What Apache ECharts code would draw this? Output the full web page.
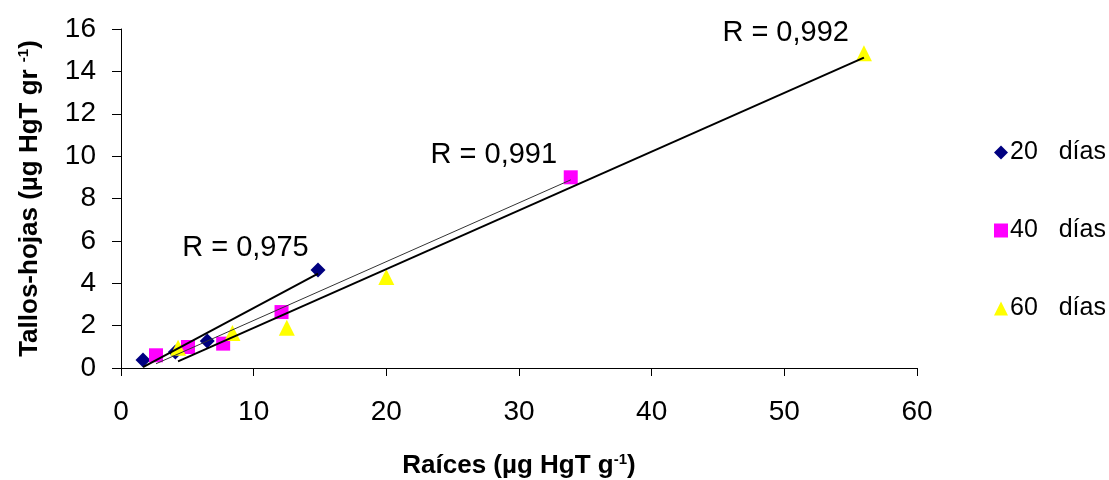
<!DOCTYPE html>
<html><head><meta charset="utf-8">
<script src="https://cdn.jsdelivr.net/npm/echarts@6/dist/echarts.min.js"></script>
<style>html,body{margin:0;padding:0;background:#fff}#c{width:1109px;height:480px}</style>
</head><body><div id="c"></div>
<script>
const seriesNames = ['20   días', '40   días', '60   días'];
const d20x = [1.66, 4.1, 6.5, 14.85];
const d20y = [0.38, 0.76, 1.27, 4.62];
const d40x = [2.64, 5.05, 7.7, 12.1, 33.9];
const d40y = [0.6, 0.99, 1.15, 2.64, 9.0];
const d60x = [4.3, 8.4, 12.5, 20.0, 56.0];
const d60y = [0.95, 1.65, 1.9, 4.3, 14.85];
const rLabels = ['R = 0,975', 'R = 0,991', 'R = 0,992'];
const rLabelPos = [[9.38, 5.66], [28.1, 10.03], [50.1, 15.83]];
const colors = ['#000080', '#FF00FF', '#FFFF00'];
const symbols = ['diamond', 'rect', 'triangle'];
const symbolSizes = [15, 14, 16];
const FONT = 'Liberation Sans, Arial, sans-serif';

function zip(xs, ys){ return xs.map((x,i)=>[x, ys[i]]); }
function fit(xs, ys){
  const n = xs.length;
  const mx = xs.reduce((a,b)=>a+b,0)/n, my = ys.reduce((a,b)=>a+b,0)/n;
  let sxy=0, sxx=0;
  for(let i=0;i<n;i++){ sxy+=(xs[i]-mx)*(ys[i]-my); sxx+=(xs[i]-mx)**2; }
  const b = sxy/sxx, a = my - b*mx;
  const x0 = Math.min(...xs), x1 = Math.max(...xs);
  return [[x0, a+b*x0],[x1, a+b*x1]];
}
const sets = [[d20x,d20y],[d40x,d40y],[d60x,d60y]];
const lineWidths = [2, 1, 2];
const lineColors = ['#000', '#333', '#000'];

const series = [];
sets.forEach((s,i)=>{
  series.push({
    name: seriesNames[i], type: 'scatter', data: zip(s[0], s[1]),
    symbol: symbols[i], symbolSize: symbolSizes[i],
    itemStyle: { color: colors[i], opacity: 1 }, z: 2
  });
});
sets.forEach((s,i)=>{
  series.push({
    name: 'fit'+i, type: 'line', data: fit(s[0], s[1]), symbol: 'none',
    lineStyle: { color: lineColors[i], width: lineWidths[i] }, z: 3, silent: true,
    markPoint: {
      symbol: 'circle', symbolSize: 0,
      data: [{ coord: rLabelPos[i], value: rLabels[i] }],
      label: { show: true, formatter: rLabels[i], color: '#000', fontSize: 29,
               fontFamily: FONT, position: 'inside', align: 'center', verticalAlign: 'middle' }
    }
  });
});

const titleRich = {
  b: { fontSize: 26, fontWeight: 'bold', color: '#000', fontFamily: FONT },
  s: { fontSize: 15, fontWeight: 'bold', color: '#000', padding: [0,0,12,0], fontFamily: FONT }
};

const chart = echarts.init(document.getElementById('c'));
chart.setOption({
  animation: false,
  textStyle: { fontFamily: FONT },
  grid: { left: 121, right: 192, top: 29, bottom: 112, containLabel: false, outerBoundsMode: 'none' },
  legend: {
    data: seriesNames, orient: 'vertical', left: 989, top: 135, itemGap: 53,
    itemWidth: 14, itemHeight: 14,
    textStyle: { fontSize: 25, color: '#000', fontFamily: FONT, padding: [0,0,0,-3] }
  },
  xAxis: {
    type: 'value', min: 0, max: 60, interval: 10,
    name: '{b|Raíces (µg HgT g}{s|-1}{b|)}', nameLocation: 'middle', nameGap: 84,
    nameTextStyle: { rich: titleRich },
    axisLine: { lineStyle: { color: '#000', width: 1 } },
    axisTick: { show: true, inside: false, length: 8, lineStyle: { color: '#000' } },
    axisLabel: { fontSize: 28, color: '#000', margin: 30, fontFamily: FONT },
    splitLine: { show: false }
  },
  yAxis: {
    type: 'value', min: 0, max: 16, interval: 2,
    name: '{b|Tallos-hojas (µg HgT gr }{s|-1}{b|)}', nameLocation: 'middle', nameGap: 78, nameRotate: 90,
    nameTextStyle: { rich: titleRich },
    axisLine: { show: true, lineStyle: { color: '#000', width: 1 } },
    axisTick: { show: true, inside: false, length: 9, lineStyle: { color: '#000' } },
    axisLabel: { fontSize: 28, color: '#000', margin: 25, fontFamily: FONT },
    splitLine: { show: false }
  },
  series: series
});
</script></body></html>
